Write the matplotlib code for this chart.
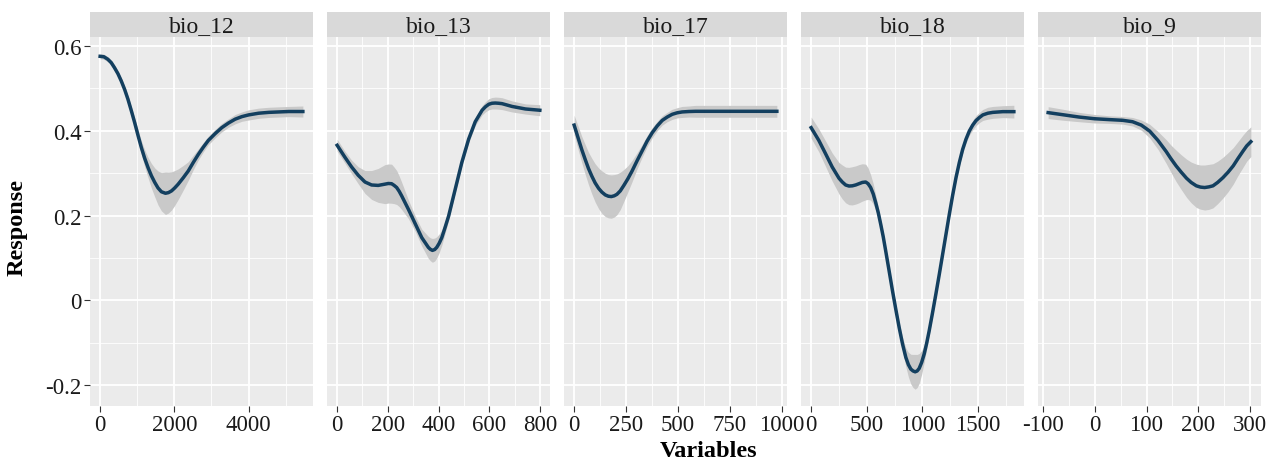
import numpy as np
import matplotlib
matplotlib.use("Agg")
import matplotlib.pyplot as plt

plt.rcParams['font.family'] = ['Liberation Serif', 'DejaVu Serif']

panels = ["bio_12", "bio_13", "bio_17", "bio_18", "bio_9"]

# bio_12
x12 = [0, 100, 208, 300, 388, 480, 569, 660, 749, 840, 930, 1020, 1111, 1200,
       1291, 1380, 1472, 1560, 1652, 1761, 1840, 1923, 2010, 2104, 2240, 2375,
       2510, 2646, 2780, 2917, 3100, 3278, 3460, 3639, 3820, 4000, 4270, 4542,
       4810, 5084, 5463]
y12 = [0.575, 0.574, 0.568, 0.560, 0.548, 0.534, 0.517, 0.497, 0.474, 0.447,
       0.419, 0.389, 0.360, 0.335, 0.313, 0.294, 0.278, 0.265, 0.256, 0.2525,
       0.254, 0.258, 0.265, 0.274, 0.289, 0.305, 0.325, 0.344, 0.361, 0.377,
       0.393, 0.407, 0.418, 0.427, 0.433, 0.437, 0.441, 0.443, 0.444, 0.445,
       0.445]
se12 = [0.006, 0.006, 0.006, 0.006, 0.007, 0.007, 0.008, 0.008, 0.009, 0.010,
        0.011, 0.013, 0.016, 0.020, 0.024, 0.029, 0.034, 0.040, 0.045, 0.050,
        0.048, 0.045, 0.041, 0.036, 0.029, 0.022, 0.017, 0.013, 0.011, 0.010,
        0.010, 0.010, 0.010, 0.011, 0.011, 0.012, 0.012, 0.012, 0.012, 0.012,
        0.013]

# bio_13
x13 = [0, 30, 57, 83, 110, 136, 162, 189, 202, 215, 225, 235, 245, 255, 281,
       308, 334, 360, 368, 376, 385, 393, 403, 413, 426, 440, 466, 492, 519,
       545, 572, 585, 598, 611, 624, 637, 651, 690, 743, 800]
y13 = [0.3655, 0.338, 0.3145, 0.295, 0.279, 0.272, 0.271, 0.274, 0.2755,
       0.275, 0.271, 0.266, 0.257, 0.246, 0.215, 0.181, 0.148, 0.125, 0.1205,
       0.118, 0.120, 0.125, 0.135, 0.148, 0.172, 0.199, 0.262, 0.325, 0.380,
       0.421, 0.448, 0.456, 0.462, 0.4645, 0.465, 0.4645, 0.4635, 0.457, 0.451,
       0.448]
se13 = [0.014, 0.014, 0.016, 0.020, 0.027, 0.034, 0.040, 0.046, 0.046, 0.046,
        0.043, 0.040, 0.036, 0.032, 0.022, 0.018, 0.020, 0.026, 0.027, 0.028,
        0.027, 0.025, 0.022, 0.018, 0.014, 0.010, 0.008, 0.008, 0.008, 0.009,
        0.011, 0.012, 0.013, 0.0135, 0.014, 0.014, 0.014, 0.013, 0.012, 0.013]

# bio_17
x17 = [0, 21, 37, 53, 69, 85, 101, 118, 134, 150, 165, 179, 193, 206, 222, 238,
       258, 279, 303, 327, 351, 375, 400, 424, 448, 472, 496, 520, 552, 585,
       650, 746, 860, 976]
y17 = [0.413, 0.380, 0.355, 0.3325, 0.311, 0.293, 0.277, 0.264, 0.255, 0.2486,
       0.2455, 0.2447, 0.2465, 0.250, 0.258, 0.270, 0.286, 0.305, 0.329, 0.352,
       0.375, 0.3945, 0.411, 0.424, 0.432, 0.4384, 0.442, 0.444, 0.445, 0.4455,
       0.4455, 0.4455, 0.4455, 0.4455]
se17 = [0.023, 0.028, 0.031, 0.035, 0.038, 0.042, 0.045, 0.048, 0.050, 0.051,
        0.051, 0.051, 0.050, 0.048, 0.044, 0.038, 0.031, 0.025, 0.019, 0.015,
        0.013, 0.012, 0.011, 0.011, 0.011, 0.012, 0.012, 0.013, 0.013, 0.014,
        0.014, 0.014, 0.014, 0.014]

# bio_18
x18 = [0, 69, 129, 189, 250, 280, 310, 340, 370, 400, 430, 460, 490, 512, 535,
       558, 580, 603, 625, 648, 670, 700, 731, 761, 791, 821, 851, 874, 896,
       916, 935, 953, 971, 993, 1016, 1038, 1061, 1091, 1121, 1152, 1182, 1212,
       1242, 1272, 1302, 1332, 1362, 1392, 1422, 1452, 1483, 1513, 1543, 1588,
       1633, 1723, 1822]
y18 = [0.407, 0.377, 0.346, 0.3145, 0.288, 0.279, 0.272, 0.2695, 0.270, 0.272,
       0.275, 0.278, 0.279, 0.275, 0.266, 0.251, 0.2306, 0.207, 0.180, 0.150,
       0.117, 0.071, 0.023, -0.021, -0.0635, -0.102, -0.134, -0.151, -0.1616,
       -0.166, -0.168, -0.166, -0.160, -0.146, -0.126, -0.101, -0.0714, -0.029,
       0.015, 0.062, 0.109, 0.156, 0.203, 0.248, 0.2894, 0.325, 0.356, 0.380,
       0.3992, 0.413, 0.424, 0.431, 0.437, 0.441, 0.443, 0.4447, 0.4447]
se18 = [0.025, 0.027, 0.030, 0.033, 0.037, 0.040, 0.042, 0.044, 0.045, 0.045,
        0.045, 0.044, 0.042, 0.037, 0.030, 0.024, 0.018, 0.014, 0.011, 0.010,
        0.009, 0.009, 0.009, 0.010, 0.012, 0.016, 0.022, 0.029, 0.035, 0.039,
        0.041, 0.039, 0.035, 0.028, 0.020, 0.014, 0.010, 0.009, 0.008, 0.008,
        0.008, 0.008, 0.008, 0.008, 0.008, 0.008, 0.009, 0.009, 0.010, 0.011,
        0.012, 0.012, 0.013, 0.014, 0.014, 0.014, 0.015]

# bio_9
x9 = [-89.5, -62, -30, 0, 28, 54, 73, 90, 106, 122, 138, 147, 157, 167, 177,
      186, 196, 204, 212, 220, 228, 237, 247, 257, 267, 276, 286, 293, 301]
y9 = [0.4424, 0.4376, 0.432, 0.428, 0.426, 0.4243, 0.421, 0.413, 0.399, 0.377,
      0.3506, 0.334, 0.317, 0.302, 0.288, 0.278, 0.270, 0.267, 0.266, 0.2675,
      0.270, 0.278, 0.289, 0.302, 0.317, 0.334, 0.352, 0.364, 0.374]
se9 = [0.014, 0.013, 0.011, 0.010, 0.009, 0.009, 0.010, 0.012, 0.016, 0.021,
       0.028, 0.032, 0.037, 0.041, 0.045, 0.048, 0.051, 0.052, 0.053, 0.053,
       0.052, 0.050, 0.048, 0.046, 0.043, 0.040, 0.038, 0.036, 0.035]

xs = [x12, x13, x17, x18, x9]
ys = [y12, y13, y17, y18, y9]
ses = [se12, se13, se17, se18, se9]

x_major = [[0, 2000, 4000], [0, 200, 400, 600, 800], [0, 250, 500, 750, 1000],
           [0, 500, 1000, 1500], [-100, 0, 100, 200, 300]]
x_minor = [[1000, 3000, 5000], [100, 300, 500, 700], [125, 375, 625, 875],
           [250, 750, 1250, 1750], [-50, 50, 150, 250]]
y_major = [-0.2, 0, 0.2, 0.4, 0.6]
y_labels = ["-0.2", "0", "0.2", "0.4", "0.6"]
y_minor = [-0.1, 0.1, 0.3, 0.5]

W, H = 1280, 464
fig = plt.figure(figsize=(W / 100, H / 100), dpi=100)

line_col = "#133f5f"
band_col = "#c9c9c9"
txt_col = "#1a1a1a"

lo_all = min(min(np.array(y) - np.array(s)) for y, s in zip(ys, ses))
hi_all = max(max(np.array(y) + np.array(s)) for y, s in zip(ys, ses))
pad = 0.05 * (hi_all - lo_all)
ylim = (lo_all - pad, hi_all + pad)

for i, name in enumerate(panels):
    left = (90 + 237 * i) / W
    ax = fig.add_axes([left, 1 - 407 / H, 223 / W, 369 / H])
    ax.set_facecolor("#ebebeb")
    x = np.array(xs[i])
    y = np.array(ys[i])
    se = np.array(ses[i])
    ax.fill_between(x, y - se, y + se, color=band_col, lw=0, zorder=2)
    ax.plot(x, y, color=line_col, lw=2.5, zorder=3, solid_joinstyle="round")

    r = x.max() - x.min()
    ax.set_xlim(x.min() - 0.05 * r, x.max() + 0.05 * r)
    ax.set_ylim(*ylim)

    ax.set_xticks(x_major[i])
    ax.set_xticklabels([str(v) for v in x_major[i]])
    ax.set_xticks(x_minor[i], minor=True)
    ax.set_yticks(y_major)
    ax.set_yticks(y_minor, minor=True)

    ax.grid(which="major", color="white", lw=1.3, zorder=1)
    ax.grid(which="minor", color="white", lw=0.6, zorder=1)
    ax.set_axisbelow(True)
    for sp in ax.spines.values():
        sp.set_visible(False)
    ax.tick_params(which="major", length=4, width=0.8, color="#333333",
                   labelsize=16.5, labelcolor=txt_col, pad=2)
    ax.tick_params(which="minor", length=0)
    if i == 0:
        ax.set_yticklabels(y_labels)
    else:
        ax.set_yticklabels([])
        ax.tick_params(axis="y", which="major", length=0)

    strip = fig.add_axes([left, 1 - 38 / H, 223 / W, 25 / H])
    strip.set_facecolor("#d9d9d9")
    strip.set_xticks([])
    strip.set_yticks([])
    for sp in strip.spines.values():
        sp.set_visible(False)
    strip.text(0.5, 0.45, name, ha="center", va="center", fontsize=17,
               color=txt_col, transform=strip.transAxes)

fig.text(709 / W, 1 - 452 / H, "Variables", ha="center", va="center",
         fontsize=17.5, fontweight="bold", color="black")
fig.text(17 / W, 1 - 227 / H, "Response", ha="center", va="center",
         rotation=90, fontsize=17.5, fontweight="bold", color="black")

fig.savefig("out.png", dpi=100, facecolor="white")
